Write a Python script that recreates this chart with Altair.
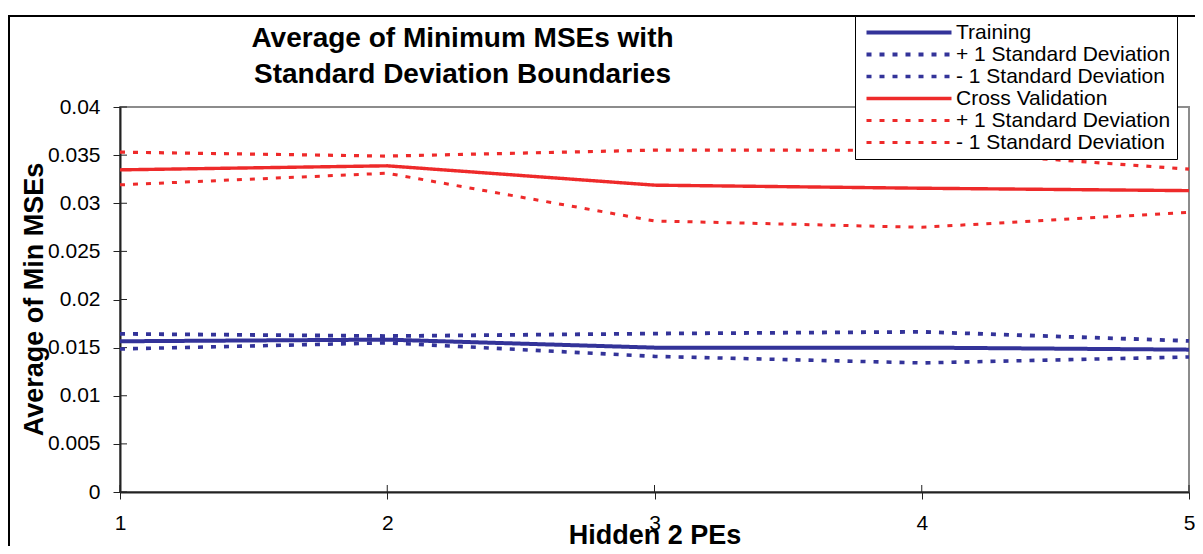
import altair as alt
import pandas as pd

# ---- data ----
hidden_pes = [1, 2, 3, 4, 5]
training = [0.01566, 0.01583, 0.01500, 0.01500, 0.01479]
training_plus = [0.01643, 0.01620, 0.01646, 0.01664, 0.01570]
training_minus = [0.01486, 0.01550, 0.01409, 0.01341, 0.01403]
cv = [0.03347, 0.03389, 0.03188, 0.03156, 0.03131]
cv_plus = [0.03531, 0.03490, 0.03552, 0.03550, 0.03354]
cv_minus = [0.03191, 0.03312, 0.02816, 0.02750, 0.02906]

series_keys = ["T", "T+", "T-", "CV", "CV+", "CV-"]
series_labels = ["Training", "+ 1 Standard Deviation", "- 1 Standard Deviation",
                 "Cross Validation", "+ 1 Standard Deviation", "- 1 Standard Deviation"]
series_values = [training, training_plus, training_minus, cv, cv_plus, cv_minus]
y_ticks = [0, 0.005, 0.01, 0.015, 0.02, 0.025, 0.03, 0.035, 0.04]

BLUE = "#333399"
RED = "#EE2A2A"
colors = [BLUE, BLUE, BLUE, RED, RED, RED]
dashes = [[1, 0], [5, 8], [5, 8], [1, 0], [5, 8], [5, 8]]
widths = [4, 3, 3, 4, 3, 3]

rows = []
for k, vals in zip(series_keys, series_values):
    for x, v in zip(hidden_pes, vals):
        rows.append({"pes": x, "mse": v, "series": k, "order": series_keys.index(k)})
df = pd.DataFrame(rows)

label_expr = " : ".join(
    [f"datum.value == '{k}' ? '{l}'" for k, l in zip(series_keys, series_labels)]
) + " : datum.value"

x_enc = alt.X("pes:Q", scale=alt.Scale(domain=[1, 5], nice=False, zero=False),
              axis=alt.Axis(title="Hidden 2 PEs", values=hidden_pes, format="d",
                            tickSize=7, labelPadding=13, labelFontSize=21,
                            titleFontSize=27, titleFontWeight="bold",
                            titleY=51, titleBaseline="alphabetic",
                            domainColor="#222222", domainWidth=2, tickColor="#222222",
                            labelFlush=False, grid=False))
y_enc = alt.Y("mse:Q", scale=alt.Scale(domain=[0, 0.04], nice=False),
              axis=alt.Axis(title="Average of Min MSEs", values=y_ticks,
                            labelExpr="datum.value == 0 ? '0' : format(datum.value, '.3~f')",
                            tickSize=7, labelPadding=13, labelFontSize=21,
                            titleFontSize=27, titleFontWeight="bold",
                            titleX=-78, titleY=192, titleBaseline="alphabetic",
                            titleAngle=-90,
                            domainColor="#222222", domainWidth=2, tickColor="#222222",
                            grid=False))

lines = alt.Chart(df).mark_line(strokeCap="butt").encode(
    x=x_enc,
    y=y_enc,
    color=alt.Color("series:N", scale=alt.Scale(domain=series_keys, range=colors),
                    legend=alt.Legend(title=None, orient="none", legendX=735, legendY=-91,
                                      labelExpr=label_expr, symbolType="M-5,0H5",
                                      symbolSize=289, labelFontSize=21, labelOffset=36.5,
                                      padding=6, rowPadding=0, symbolOffset=37.5,
                                      strokeColor="#000000", fillColor="#ffffff",
                                      labelColor="#000000", labelLimit=400)),
    strokeDash=alt.StrokeDash("series:N", scale=alt.Scale(domain=series_keys, range=dashes),
                              legend=None),
    strokeWidth=alt.StrokeWidth("series:N", scale=alt.Scale(domain=series_keys, range=widths),
                                legend=None),
    detail="series:N",
    order="order:Q",
)

inner_ticks_x = alt.Chart(pd.DataFrame({"pes": hidden_pes})).mark_rule(
    color="#222222", strokeWidth=1).encode(
    x="pes:Q", y=alt.value(385), y2=alt.value(378))
inner_ticks_y = alt.Chart(pd.DataFrame({"mse": y_ticks})).mark_rule(
    color="#222222", strokeWidth=1).encode(
    y="mse:Q", x=alt.value(0), x2=alt.value(7))

frame = alt.Chart(pd.DataFrame({"a": [0]})).mark_rect(
    fill=None, stroke="#000000", strokeWidth=2, clip=False).encode(
    x=alt.value(-111), x2=alt.value(1081), y=alt.value(-91), y2=alt.value(460))

chart = alt.layer(frame, inner_ticks_x, inner_ticks_y, lines).properties(
    width=1069, height=385,
    title=alt.TitleParams(["Average of Minimum MSEs with", "Standard Deviation Boundaries"],
                          fontSize=28, fontWeight="bold", anchor="middle", frame="group",
                          dx=-192, dy=96, lineHeight=36, offset=0, baseline="alphabetic",
                          color="#000000"),
    autosize=alt.AutoSizeParams(type="none"),
    padding={"left": 112, "top": 99, "right": 6, "bottom": 54},
).configure(font="Liberation Sans").configure_view(
    stroke="#8c8c8c", strokeWidth=2
).configure_axis(labelColor="#000000", titleColor="#000000")

chart.save("out.html", embed_options={"renderer": "svg", "actions": False})
